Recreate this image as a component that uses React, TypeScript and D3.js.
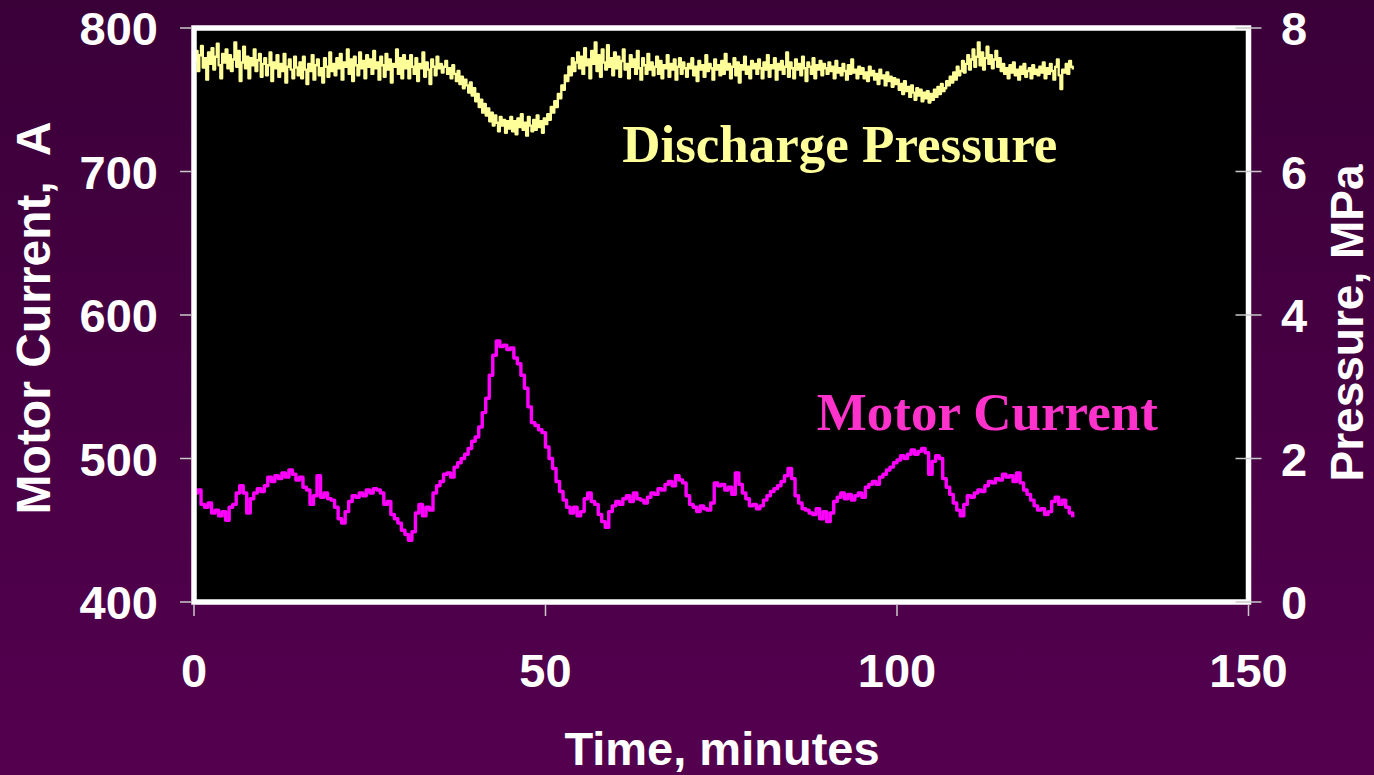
import React from "react";
import * as d3 from "d3";

const CURRENT_STEP = 0.5; // minutes between motor-current samples
const PRESSURE_STEP = 0.25; // minutes between pressure samples

const motorCurrent: number[] = [
  476, 478, 468, 466, 469, 462, 464, 460, 463, 457,
  466, 468, 476, 481, 476, 462, 472, 476, 479, 477,
  481, 487, 484, 488, 486, 490, 487, 492, 489, 485,
  487, 480, 478, 468, 474, 488, 473, 476, 472, 471,
  466, 458, 455, 463, 470, 474, 473, 476, 474, 478,
  476, 479, 478, 476, 468, 470, 461, 458, 455, 450,
  447, 443, 449, 462, 468, 460, 466, 464, 476, 481,
  484, 489, 490, 487, 494, 497, 500, 503, 507, 512,
  515, 522, 532, 542, 558, 572, 582, 578, 579, 576,
  577, 570, 566, 558, 549, 536, 525, 523, 520, 518,
  508, 500, 493, 484, 477, 471, 466, 462, 466, 460,
  463, 472, 476, 470, 468, 461, 456, 452, 463, 467,
  470, 468, 472, 474, 470, 476, 472, 471, 469, 473,
  476, 475, 479, 478, 482, 484, 481, 488, 485, 483,
  474, 468, 466, 463, 467, 465, 464, 469, 483, 481,
  482, 478, 480, 475, 490, 482, 476, 472, 467, 468,
  465, 467, 471, 474, 477, 479, 481, 484, 488, 493,
  486, 474, 469, 465, 464, 462, 461, 465, 458, 463,
  456, 462, 470, 473, 476, 472, 475, 471, 474, 476,
  473, 480, 482, 484, 482, 487, 489, 492, 494, 497,
  499, 502, 500, 503, 506, 503, 505, 507, 504, 489,
  498, 502, 500, 486, 480, 475, 469, 464, 460, 468,
  474, 473, 476, 478, 477, 481, 484, 483, 486, 485,
  489, 487, 488, 484, 490, 483, 478, 475, 471, 467,
  464, 465, 461, 463, 470, 473, 468, 471, 466, 462,
  459,
];

const dischargePressure: number[] = [
  7.55, 7.68, 7.40, 7.62, 7.75, 7.45, 7.58, 7.28, 7.66, 7.50, 7.72, 7.42, 7.60, 7.78, 7.48, 7.30, 7.64, 7.52, 7.70, 7.44,
  7.62, 7.40, 7.56, 7.80, 7.46, 7.68, 7.26, 7.52, 7.74, 7.44, 7.60, 7.30, 7.58, 7.48, 7.70, 7.40, 7.55, 7.64, 7.32, 7.50,
  7.58, 7.34, 7.48, 7.66, 7.26, 7.52, 7.44, 7.62, 7.32, 7.50, 7.40, 7.64, 7.24, 7.46, 7.56, 7.42, 7.30, 7.60, 7.45, 7.34,
  7.52, 7.30, 7.60, 7.42, 7.22, 7.50, 7.40, 7.62, 7.28, 7.48, 7.56, 7.34, 7.44, 7.24, 7.58, 7.46, 7.32, 7.66, 7.40, 7.50,
  7.34, 7.58, 7.44, 7.64, 7.28, 7.52, 7.46, 7.70, 7.36, 7.56, 7.26, 7.60, 7.48, 7.34, 7.66, 7.44, 7.54, 7.30, 7.62, 7.46,
  7.56, 7.36, 7.68, 7.44, 7.52, 7.28, 7.60, 7.48, 7.32, 7.64, 7.42, 7.56, 7.24, 7.50, 7.46, 7.70, 7.36, 7.58, 7.30, 7.62,
  7.44, 7.54, 7.30, 7.62, 7.46, 7.36, 7.58, 7.26, 7.50, 7.44, 7.66, 7.32, 7.52, 7.42, 7.22, 7.56, 7.46, 7.34, 7.60, 7.44,
  7.50, 7.38, 7.46, 7.54, 7.36, 7.44, 7.30, 7.48, 7.36, 7.26, 7.40, 7.22, 7.32, 7.16, 7.28, 7.20, 7.10, 7.24, 7.06, 7.16,
  6.98, 7.08, 6.90, 7.00, 6.82, 6.94, 6.78, 6.88, 6.70, 6.82, 6.64, 6.78, 6.68, 6.56, 6.76, 6.64, 6.72, 6.54, 6.70, 6.60,
  6.76, 6.56, 6.70, 6.52, 6.74, 6.62, 6.80, 6.58, 6.68, 6.50, 6.76, 6.64, 6.56, 6.72, 6.58, 6.78, 6.62, 6.70, 6.54, 6.74,
  6.66, 6.80, 6.72, 6.90, 6.82, 6.98, 6.90, 7.08, 7.02, 7.20, 7.14, 7.34, 7.26, 7.46, 7.34, 7.58, 7.40, 7.52, 7.66, 7.44,
  7.60, 7.36, 7.72, 7.48, 7.56, 7.30, 7.68, 7.50, 7.80, 7.40, 7.62, 7.32, 7.70, 7.52, 7.42, 7.76, 7.46, 7.58, 7.34, 7.66,
  7.44, 7.60, 7.32, 7.54, 7.70, 7.42, 7.50, 7.30, 7.62, 7.46, 7.56, 7.36, 7.68, 7.44, 7.28, 7.58, 7.48, 7.36, 7.64, 7.42,
  7.52, 7.34, 7.46, 7.60, 7.36, 7.54, 7.30, 7.48, 7.44, 7.62, 7.32, 7.50, 7.42, 7.56, 7.28, 7.46, 7.58, 7.36, 7.52, 7.44,
  7.32, 7.50, 7.44, 7.58, 7.34, 7.46, 7.26, 7.54, 7.42, 7.48, 7.32, 7.62, 7.40, 7.50, 7.44, 7.28, 7.56, 7.42, 7.48, 7.34,
  7.54, 7.36, 7.64, 7.42, 7.50, 7.30, 7.46, 7.58, 7.34, 7.52, 7.24, 7.48, 7.42, 7.60, 7.36, 7.46, 7.30, 7.54, 7.44, 7.50,
  7.36, 7.56, 7.44, 7.30, 7.52, 7.42, 7.62, 7.32, 7.48, 7.44, 7.58, 7.28, 7.50, 7.42, 7.54, 7.36, 7.46, 7.66, 7.32, 7.52,
  7.44, 7.30, 7.56, 7.42, 7.50, 7.34, 7.60, 7.44, 7.26, 7.52, 7.46, 7.36, 7.58, 7.30, 7.48, 7.42, 7.54, 7.34, 7.50, 7.44,
  7.36, 7.52, 7.40, 7.46, 7.30, 7.54, 7.38, 7.44, 7.34, 7.50, 7.40, 7.28, 7.48, 7.36, 7.56, 7.38, 7.42, 7.30, 7.46, 7.36,
  7.44, 7.30, 7.38, 7.26, 7.46, 7.34, 7.40, 7.28, 7.36, 7.22, 7.42, 7.30, 7.34, 7.20, 7.38, 7.26, 7.32, 7.18, 7.30, 7.22,
  7.28, 7.14, 7.22, 7.08, 7.26, 7.12, 7.18, 7.04, 7.20, 7.10, 7.00, 7.16, 7.06, 7.14, 6.98, 7.10, 7.02, 7.12, 6.96, 7.08,
  7.00, 7.14, 7.04, 7.18, 7.08, 7.22, 7.12, 7.16, 7.26, 7.20, 7.32, 7.24, 7.38, 7.28, 7.46, 7.34, 7.40, 7.54, 7.38, 7.50,
  7.62, 7.42, 7.56, 7.70, 7.46, 7.60, 7.80, 7.48, 7.66, 7.42, 7.58, 7.74, 7.50, 7.62, 7.44, 7.56, 7.68, 7.46, 7.58, 7.40,
  7.50, 7.36, 7.44, 7.30, 7.48, 7.38, 7.52, 7.34, 7.42, 7.28, 7.46, 7.36, 7.50, 7.32, 7.40, 7.44, 7.30, 7.48, 7.36, 7.42,
  7.34, 7.46, 7.38, 7.52, 7.30, 7.44, 7.36, 7.50, 7.40, 7.28, 7.46, 7.56, 7.34, 7.15, 7.42, 7.38, 7.50, 7.36, 7.54, 7.46,
  7.42,
];

const xTicks = [0, 50, 100, 150];
const leftTicks = [400, 500, 600, 700, 800];
const rightTicks = [0, 2, 4, 6, 8];

const W = 1374;
const H = 775;
const plot = { left: 194, right: 1248.5, top: 28, bottom: 602 };

export default function App() {
  const x = d3.scaleLinear().domain([0, 150]).range([plot.left, plot.right]);
  const yL = d3.scaleLinear().domain([400, 800]).range([plot.bottom, plot.top]);
  const yR = d3.scaleLinear().domain([0, 8]).range([plot.bottom, plot.top]);

  const motorLine = d3
    .line<number>()
    .x((_, i) => x(i * CURRENT_STEP))
    .y((d) => yL(d))
    .curve(d3.curveStepAfter);
  const pressLine = d3
    .line<number>()
    .x((_, i) => x(i * PRESSURE_STEP))
    .y((d) => yR(d))
    .curve(d3.curveStepAfter);

  const sans = "'Liberation Sans', Arial, sans-serif";
  const serif = "'Liberation Serif', 'Times New Roman', serif";
  const tickColor = "#c8c8c8";

  return (
    <svg
      width={W}
      height={H}
      style={{ position: "absolute", left: 0, top: 0, display: "block" }}
    >
      <defs>
        <linearGradient id="bg" x1="0" y1="0" x2="0" y2="1">
          <stop offset="0" stopColor="#3a0038" />
          <stop offset="1" stopColor="#54004f" />
        </linearGradient>
        <clipPath id="clip">
          <rect x={plot.left} y={plot.top} width={plot.right - plot.left} height={plot.bottom - plot.top} />
        </clipPath>
      </defs>
      <rect x={0} y={0} width={W} height={H} fill="url(#bg)" />

      <rect
        x={plot.left}
        y={plot.top}
        width={plot.right - plot.left}
        height={plot.bottom - plot.top}
        fill="#000"
      />

      <g clipPath="url(#clip)">
        <path
          d={pressLine(dischargePressure) || ""}
          fill="none"
          stroke="#ffff99"
          strokeWidth={2.4}
          strokeLinejoin="round"
        />
        <path
          d={motorLine(motorCurrent) || ""}
          fill="none"
          stroke="#ff00ff"
          strokeWidth={3.4}
          strokeLinejoin="round"
        />
      </g>

      <rect
        x={plot.left}
        y={plot.top}
        width={plot.right - plot.left}
        height={plot.bottom - plot.top}
        fill="none"
        stroke="#ffffff"
        strokeWidth={5.5}
      />

      {leftTicks.map((t) => (
        <g key={"l" + t}>
          <line x1={plot.left - 14} x2={plot.left - 3} y1={yL(t)} y2={yL(t)} stroke={tickColor} strokeWidth={1.5} />
          <text x={158} y={yL(t) + 17} textAnchor="end" fill="#fff" fontFamily={sans} fontWeight="bold" fontSize={47}>
            {t}
          </text>
        </g>
      ))}

      {rightTicks.map((t) => (
        <g key={"r" + t}>
          <line x1={plot.right - 13} x2={plot.right + 13} y1={yR(t)} y2={yR(t)} stroke={tickColor} strokeWidth={1.5} />
          <text x={1281} y={yR(t) + 17} textAnchor="start" fill="#fff" fontFamily={sans} fontWeight="bold" fontSize={47}>
            {t}
          </text>
        </g>
      ))}

      {xTicks.map((t) => (
        <g key={"x" + t}>
          <line x1={x(t)} x2={x(t)} y1={plot.bottom + 3} y2={plot.bottom + 14} stroke={tickColor} strokeWidth={1.5} />
          <text x={x(t)} y={687} textAnchor="middle" fill="#fff" fontFamily={sans} fontWeight="bold" fontSize={47}>
            {t}
          </text>
        </g>
      ))}

      <text x={722} y={765} textAnchor="middle" fill="#fff" fontFamily={sans} fontWeight="bold" fontSize={47}>
        Time, minutes
      </text>
      <text
        transform={`translate(50, 318) rotate(-90)`}
        textAnchor="middle"
        fill="#fff"
        fontFamily={sans}
        fontWeight="bold"
        fontSize={48}
        style={{ whiteSpace: "pre" }}
      >
        {"Motor Current,  A"}
      </text>
      <text
        transform={`translate(1363, 323) rotate(-90)`}
        textAnchor="middle"
        fill="#fff"
        fontFamily={sans}
        fontWeight="bold"
        fontSize={46}
      >
        Pressure, MPa
      </text>

      <text x={x(60.9)} y={yL(706.5)} fill="#ffff99" fontFamily={serif} fontWeight="bold" fontSize={53}>
        Discharge Pressure
      </text>
      <text x={x(88.6)} y={yL(520)} fill="#ff33cc" fontFamily={serif} fontWeight="bold" fontSize={53}>
        Motor Current
      </text>
    </svg>
  );
}
